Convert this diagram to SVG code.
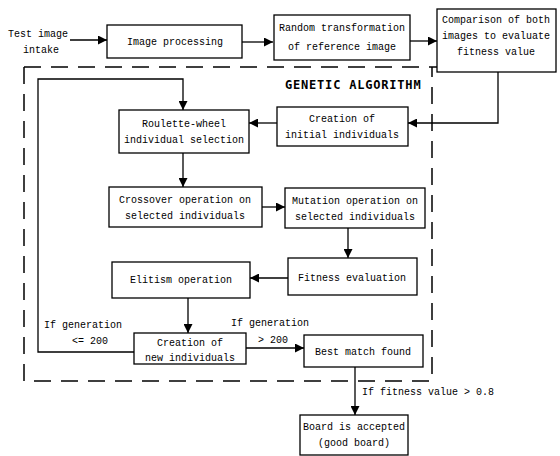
<svg xmlns="http://www.w3.org/2000/svg" width="560" height="456" viewBox="0 0 560 456">
<defs>
<marker id="ah" viewBox="0 0 10 10" refX="10" refY="5" markerWidth="9" markerHeight="9" markerUnits="userSpaceOnUse" orient="auto">
<path d="M0,0 L10,5 L0,10 z" fill="#000"/>
</marker>
<style>
.box{fill:#fff;stroke:#000;stroke-width:1.3}
.t{font-family:"Liberation Mono","DejaVu Sans Mono",monospace;font-size:10px;fill:#000}
.c{text-anchor:middle}
.ln{fill:none;stroke:#000;stroke-width:1.3}
.ar{fill:none;stroke:#000;stroke-width:1.3;marker-end:url(#ah)}
.dash{fill:none;stroke:#000;stroke-width:1.5;stroke-dasharray:17 10}
.title{font-family:"DejaVu Sans Mono","Liberation Mono",monospace;font-size:12px;font-weight:bold;letter-spacing:0.8px;fill:#000}
</style>
</defs>
<rect width="560" height="456" fill="#fff"/>

<g id="ga-frame">
<path class="dash" d="M24,67 L470,67"/>
<path class="dash" d="M24,67 L24,381 L432,381 L432,67"/>
<text class="title" x="285" y="89">GENETIC ALGORITHM</text>
</g>

<g id="connectors">
<path class="ar" d="M70,40 L107,40"/>
<path class="ar" d="M242,42 L273,42"/>
<path class="ar" d="M410,41 L437,41"/>
<path class="ar" d="M498,72 L498,123 L408,123"/>
<path class="ar" d="M277,123 L249,123"/>
<path class="ar" d="M183,153 L183,187"/>
<path class="ar" d="M262,207 L285,207"/>
<path class="ar" d="M348,228 L348,258"/>
<path class="ar" d="M288,278 L250,278"/>
<path class="ar" d="M188,298 L188,333"/>
<path class="ar" d="M134,352 L38,352 L38,79 L183,79 L183,110"/>
<path class="ar" d="M246,348 L304,348"/>
<path class="ar" d="M355,367 L355,415"/>
<text class="t" x="44" y="328">If generation</text>
<text class="t" x="72" y="344">&lt;= 200</text>
<text class="t" x="231" y="326">If generation</text>
<text class="t" x="258" y="343">&gt; 200</text>
<text class="t" x="362" y="395">If fitness value &gt; 0.8</text>
</g>

<g id="intake">
<text class="t c" x="38" y="37">Test image</text>
<text class="t c" x="41" y="53">intake</text>
</g>

<g id="image-processing">
<rect class="box" x="107" y="25" width="135" height="33"/>
<text class="t c" x="175" y="45">Image processing</text>
</g>

<g id="random-transformation">
<rect class="box" x="274" y="15" width="136" height="45"/>
<text class="t c" x="342" y="31">Random transformation</text>
<text class="t c" x="342" y="50">of reference image</text>
</g>

<g id="comparison">
<rect class="box" x="437" y="9" width="119" height="63"/>
<text class="t c" x="496" y="23">Comparison of both</text>
<text class="t c" x="496" y="39">images to evaluate</text>
<text class="t c" x="496" y="55">fitness value</text>
</g>

<g id="roulette">
<rect class="box" x="119" y="110" width="130" height="43"/>
<text class="t c" x="184" y="127">Roulette-wheel</text>
<text class="t c" x="184" y="143">individual selection</text>
</g>

<g id="initial">
<rect class="box" x="277" y="107" width="131" height="39"/>
<text class="t c" x="342" y="122">Creation of</text>
<text class="t c" x="342" y="138">initial individuals</text>
</g>

<g id="crossover">
<rect class="box" x="109" y="187" width="153" height="40"/>
<text class="t c" x="185" y="203">Crossover operation on</text>
<text class="t c" x="185" y="219">selected individuals</text>
</g>

<g id="mutation">
<rect class="box" x="285" y="188" width="140" height="40"/>
<text class="t c" x="355" y="204">Mutation operation on</text>
<text class="t c" x="355" y="220">selected individuals</text>
</g>

<g id="fitness">
<rect class="box" x="288" y="258" width="129" height="37"/>
<text class="t c" x="352" y="281">Fitness evaluation</text>
</g>

<g id="elitism">
<rect class="box" x="112" y="262" width="138" height="36"/>
<text class="t c" x="181" y="283">Elitism operation</text>
</g>

<g id="new-individuals">
<rect class="box" x="134" y="333" width="112" height="31"/>
<text class="t c" x="190" y="346">Creation of</text>
<text class="t c" x="190" y="361">new individuals</text>
</g>

<g id="best-match">
<rect class="box" x="304" y="335" width="119" height="32"/>
<text class="t c" x="363" y="355">Best match found</text>
</g>

<g id="board">
<rect class="box" x="300" y="415" width="108" height="40"/>
<text class="t c" x="354" y="430">Board is accepted</text>
<text class="t c" x="354" y="446">(good board)</text>
</g>
</svg>
